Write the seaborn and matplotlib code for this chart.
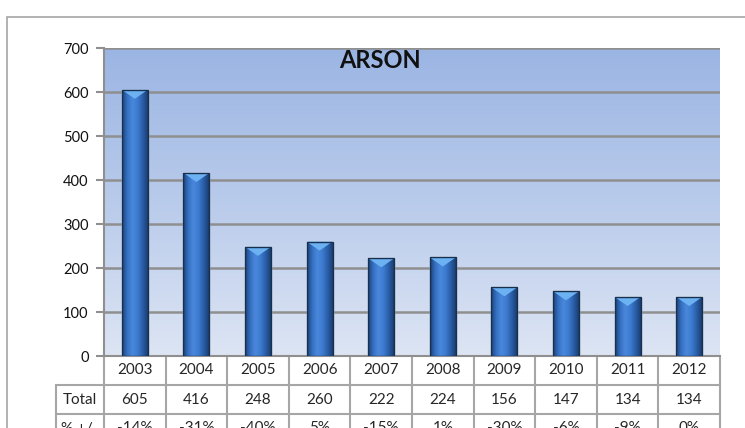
import matplotlib
matplotlib.use('Agg')
import matplotlib.pyplot as plt
import matplotlib.transforms as mtransforms
from matplotlib.colors import LinearSegmentedColormap
from matplotlib.patches import Rectangle, Polygon
from matplotlib.lines import Line2D
import seaborn as sns
import numpy as np

# data
years = ['2003', '2004', '2005', '2006', '2007', '2008', '2009', '2010', '2011', '2012']
totals = [605, 416, 248, 260, 222, 224, 156, 147, 134, 134]
changes = ['-14%', '-31%', '-40%', '5%', '-15%', '1%', '-30%', '-6%', '-9%', '0%']
row_labels = ['Total', '% +/-']

sns.set_theme(style='white')
plt.rcParams['font.family'] = ['Lato', 'DejaVu Sans']

W, H = 745, 428
fig = plt.figure(figsize=(W / 100, H / 100), dpi=100)
ax = fig.add_axes([104 / W, (H - 356) / H, 616 / W, 308 / H])

# outer chart border (runs off the right and bottom)
fig.add_artist(Rectangle((7 / W, -0.2), 1.2, (H - 17) / H + 0.2, transform=fig.transFigure,
                         fill=False, edgecolor='#a6a6a6', lw=1.2))

# plot area gradient
bg = LinearSegmentedColormap.from_list('bg', ['#dde5f4', '#b9cbeb', '#9bb5e3'])
ax.imshow(np.linspace(0, 1, 256).reshape(-1, 1), extent=[-0.5, 9.5, 0, 700], origin='lower',
          aspect='auto', cmap=bg, zorder=0)

sns.barplot(x=years, y=totals, ax=ax, color='#3a70c0', width=0.42, zorder=3)

# cylinder-ish shading on each bar
bar_cmap = LinearSegmentedColormap.from_list('bar', ['#1c4279', '#3570c2', '#4a88dc', '#3d7bd0', '#2a5fa8', '#1a3e72'])
cap = 700 * 9 / 308
for p in list(ax.patches):
    x0, w, h = p.get_x(), p.get_width(), p.get_height()
    im = ax.imshow(np.linspace(0, 1, 64).reshape(1, -1), extent=[x0, x0 + w, 0, h],
                   aspect='auto', cmap=bar_cmap, zorder=3.5)
    im.set_clip_path(p)
    ax.add_patch(Polygon([[x0, h], [x0 + w, h], [x0 + w / 2, h - cap]], closed=True,
                         facecolor='#6cb2f3', edgecolor='none', zorder=4))
    ax.add_patch(Rectangle((x0, 0), w, h, fill=False, edgecolor='#17304f', lw=1, zorder=5))

ax.set_xlim(-0.5, 9.5)
ax.set_ylim(0, 700)
ax.set_yticks(range(0, 701, 100))
ax.set_xlabel('')
ax.set_ylabel('')
ax.yaxis.grid(True, color='#8f8f8f', lw=1.8)
ax.set_axisbelow(True)
ax.tick_params(axis='x', bottom=False, labelbottom=False)
ax.tick_params(axis='y', left=True, direction='out', length=6, width=1.5, color='#8f8f8f',
               labelsize=10.5, pad=5, labelcolor='#111111')
for s in ['top', 'right']:
    ax.spines[s].set_visible(False)
for s in ['left', 'bottom']:
    ax.spines[s].set_color('#8f8f8f')
    ax.spines[s].set_linewidth(1.5)

ax.text(0.448, 0.998, 'ARSON', transform=ax.transAxes, ha='center', va='top',
        fontsize=17, fontweight='bold', color='#111111', zorder=6)

# data table under the axis
tr = mtransforms.blended_transform_factory(ax.transData, ax.transAxes)
r = 29 / 308
lab_left = -0.5 - 48 / 61.6
grid_kw = dict(color='#a6a6a6', lw=1.5, transform=tr, clip_on=False)
for i in range(len(years) + 1):
    ax.add_line(Line2D([i - 0.5, i - 0.5], [0, -3.2 * r], **grid_kw))
ax.add_line(Line2D([lab_left, lab_left], [-r, -3.2 * r], **grid_kw))
for k in [1, 2, 3]:
    ax.add_line(Line2D([lab_left, 9.5], [-k * r, -k * r], **grid_kw))

for i, (yr, tot, ch) in enumerate(zip(years, totals, changes)):
    ax.text(i, -0.5 * r, yr, transform=tr, ha='center', va='center', fontsize=11, clip_on=False)
    ax.text(i, -1.5 * r, str(tot), transform=tr, ha='center', va='center', fontsize=11, clip_on=False)
    ax.text(i, -2.5 * r, ch, transform=tr, ha='center', va='center', fontsize=11, clip_on=False)
for j, lab in enumerate(row_labels):
    ax.text((lab_left - 0.5) / 2, -(1.5 + j) * r, lab, transform=tr, ha='center', va='center',
            fontsize=11, clip_on=False)

fig.savefig('out.png', dpi=100)
